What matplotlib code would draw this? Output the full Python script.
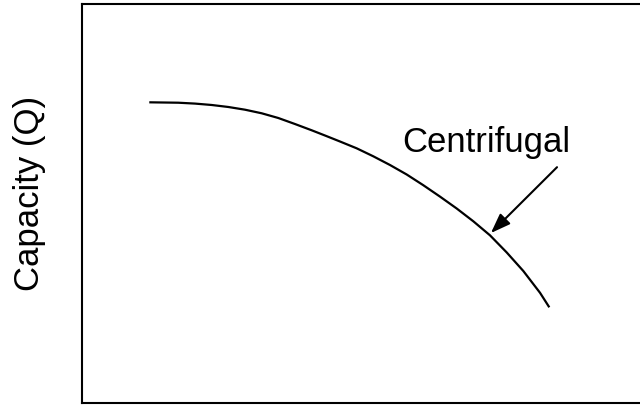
import matplotlib
matplotlib.use("Agg")
import matplotlib.pyplot as plt

# curve (arbitrary units, 0-100 on both axes)
flow = [11.60, 16.60, 19.48, 22.36, 25.22, 28.10, 30.98, 33.84, 36.72, 39.60, 42.07,
        44.48, 47.36, 50.22, 53.10, 55.98, 58.84, 61.72, 64.60, 67.47, 70.34,
        73.22, 76.09, 78.97, 80.57]
capacity = [75.36, 75.26, 75.04, 74.69, 74.19, 73.51, 72.61, 71.43, 69.92, 68.35, 66.94,
            65.54, 63.83, 61.83, 59.65, 57.27, 54.59, 51.73, 48.75, 45.54, 42.03,
            37.74, 33.08, 27.62, 23.98]

curve_label = "Centrifugal"
label_pos = (55.3, 63.2)
arrow_tail = (81.9, 59.1)
arrow_tip = (70.5, 42.6)

plt.rcParams['font.family'] = ['Liberation Sans', 'DejaVu Sans']

fig = plt.figure(figsize=(6.4, 4.06), dpi=100)
# axes runs off the right edge, like the cropped original
ax = fig.add_axes([82 / 640, 2 / 406, 580 / 640, 399 / 406])

ax.plot(flow, capacity, color='black', linewidth=1.6,
        solid_joinstyle='round', solid_capstyle='butt')

ax.text(label_pos[0], label_pos[1], curve_label, fontsize=25, ha='left', va='baseline')
ax.annotate("", xy=arrow_tip, xytext=arrow_tail,
            arrowprops=dict(arrowstyle='-|>,head_length=0.6,head_width=0.22',
                            color='black', lw=1.5, mutation_scale=20,
                            shrinkA=0, shrinkB=0))

ax.set_xlim(0, 100)
ax.set_ylim(0, 100)
ax.set_xticks([])
ax.set_yticks([])
for s in ax.spines.values():
    s.set_linewidth(1.5)

fig.text(30 / 640, 1 - 193 / 406, "Capacity (Q)", fontsize=25, rotation=90,
         ha='center', va='center')

fig.savefig("out.png", dpi=100)
